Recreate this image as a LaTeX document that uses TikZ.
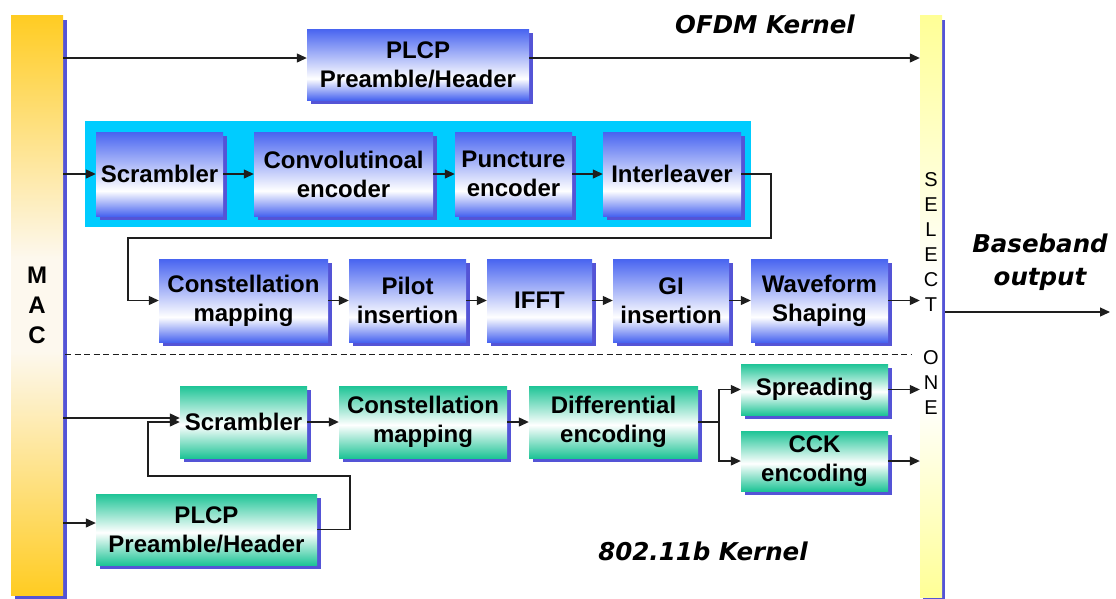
\documentclass[tikz,border=0pt]{standalone}
\usepackage{fontspec}
\setmainfont{Liberation Sans}
\newfontfamily\labelfont{DejaVu Sans}
\usetikzlibrary{arrows.meta,shadows,calc}

\definecolor{boxblue}{RGB}{72,100,240}
\definecolor{boxgreen}{RGB}{30,196,150}
\definecolor{shadowblue}{RGB}{84,84,214}
\definecolor{framecyan}{RGB}{0,204,255}
\definecolor{macyellow}{RGB}{255,204,34}
\definecolor{macpale}{RGB}{253,248,238}
\definecolor{selyellow}{RGB}{255,255,150}
\definecolor{wireblack}{RGB}{30,30,30}

% vertical fades: 25bp = bottom edge, 75bp = top edge of the shaded path
\pgfdeclareverticalshading{bluefade}{100bp}{color(0bp)=(boxblue); color(25bp)=(boxblue); color(40bp)=(white); color(75bp)=(boxblue); color(100bp)=(boxblue)}
\pgfdeclareverticalshading{greenfade}{100bp}{color(0bp)=(boxgreen); color(25bp)=(boxgreen); color(48bp)=(white); color(75bp)=(boxgreen); color(100bp)=(boxgreen)}
\pgfdeclareverticalshading{macfade}{100bp}{color(0bp)=(macyellow); color(25bp)=(macyellow); color(46bp)=(macpale); color(54bp)=(macpale); color(75bp)=(macyellow); color(100bp)=(macyellow)}
\pgfdeclareverticalshading{selfade}{100bp}{color(0bp)=(selyellow); color(25bp)=(selyellow); color(42bp)=(white); color(52bp)=(white); color(75bp)=(selyellow); color(100bp)=(selyellow)}

\tikzset{
  boxtext/.style={font=\fontsize{24}{29}\selectfont\bfseries, align=center, inner sep=0pt},
  bluebox/.style={boxtext, shading=bluefade,
    drop shadow={shadow xshift=4pt, shadow yshift=-4pt, fill=shadowblue, opacity=1}},
  greenbox/.style={boxtext, shading=greenfade,
    drop shadow={shadow xshift=4pt, shadow yshift=-4pt, fill=shadowblue, opacity=1}},
  wire/.style={line width=1.2pt, draw=wireblack},
  arrow/.style={wire, -{Triangle[length=10pt,width=9pt]}},
  kernel/.style={font=\labelfont\fontsize{24.5}{33}\selectfont\bfseries\itshape, align=center, inner sep=0pt},
}

\begin{document}
\begin{tikzpicture}[x=1pt, y=-1pt]
\useasboundingbox (0,0) rectangle (1116,598);

% side bars
\node[shading=macfade, minimum width=52pt, minimum height=580pt, inner sep=0pt,
      drop shadow={shadow xshift=4pt, shadow yshift=-5pt, fill=shadowblue, opacity=1},
      font=\fontsize{24}{30}\selectfont\bfseries, align=center] (mac) at (37,305) {M\\A\\C};
\node[shading=selfade, minimum width=22pt, minimum height=582pt, inner sep=0pt,
      drop shadow={shadow xshift=3pt, shadow yshift=-5pt, fill=shadowblue, opacity=1}] (select) at (931,306) {};
\node[font=\fontsize{20}{25}\selectfont, align=center, inner sep=0pt] (seltxt) at (931,242.5) {S\\E\\L\\E\\C\\T};
\node[font=\fontsize{20}{25}\selectfont, align=center, inner sep=0pt] (onetxt) at (931,382.5) {O\\N\\E};

% OFDM path
\node[bluebox, minimum width=222pt, minimum height=71pt] (plcp1) at (418,64.5) {PLCP\\Preamble/Header};
\node[fill=framecyan, minimum width=666pt, minimum height=106pt, inner sep=0pt] (ofdmframe) at (418,174) {};
\node[bluebox, minimum width=127pt, minimum height=84pt] (scr1) at (159.5,174) {Scrambler};
\node[bluebox, minimum width=179pt, minimum height=84pt] (conv) at (343.5,174) {Convolutinoal\\encoder};
\node[bluebox, minimum width=117pt, minimum height=84pt] (punc) at (513.5,174) {Puncture\\encoder};
\node[bluebox, minimum width=138pt, minimum height=84pt] (intl) at (672,174) {Interleaver};

\node[bluebox, minimum width=169pt, minimum height=83pt] (cons1) at (243.5,300.5) {Constellation\\mapping};
\node[bluebox, minimum width=117pt, minimum height=83pt] (pilot) at (407.5,300.5) {Pilot\\insertion};
\node[bluebox, minimum width=105pt, minimum height=83pt] (ifft) at (539.5,300.5) {IFFT};
\node[bluebox, minimum width=116pt, minimum height=83pt] (gi) at (671,300.5) {GI\\insertion};
\node[bluebox, minimum width=137pt, minimum height=83pt] (wave) at (819.5,300.5) {Waveform\\Shaping};

% 802.11b path
\node[greenbox, minimum width=127pt, minimum height=72pt] (scr2) at (243.5,422) {Scrambler};
\node[greenbox, minimum width=168pt, minimum height=72pt] (cons2) at (423,422) {Constellation\\mapping};
\node[greenbox, minimum width=169pt, minimum height=72pt] (diff) at (613.5,422) {Differential\\encoding};
\node[greenbox, minimum width=147pt, minimum height=51pt] (spread) at (814.5,389.5) {Spreading};
\node[greenbox, minimum width=147pt, minimum height=60pt] (cck) at (814.5,461) {CCK\\encoding};
\node[greenbox, minimum width=221pt, minimum height=71pt] (plcp2) at (206.5,529.5) {PLCP\\Preamble/Header};

% labels
\node[kernel] (ofdmlabel) at (765,24) {OFDM Kernel};
\node[kernel] (bblabel) at (1040,262) {Baseband\\output};
\node[kernel] (blabel) at (703,551) {802.11b Kernel};

% helper coordinates for wire rows and bends
\coordinate (r1) at (0,58);
\coordinate (r4) at (0,418);
\coordinate (r5) at (0,523);
\coordinate (rout) at (0,312);
\coordinate (outend) at (1110,312);
\coordinate (loopA) at (771,238);
\coordinate (loopB) at (128,238);
\coordinate (loopC) at (350,476);
\coordinate (loopD) at (148,476);
\coordinate (br) at (719,422);
\coordinate (dashL) at (65,354);
\coordinate (dashR) at (911,354);

% OFDM wires
\draw[arrow] (mac.east |- r1) -- (plcp1.west |- r1);
\draw[arrow] (plcp1.east |- r1) -- (select.west |- r1);
\draw[arrow] (mac.east |- scr1.west) -- (scr1.west);
\draw[arrow] (scr1.east) -- (conv.west);
\draw[arrow] (conv.east) -- (punc.west);
\draw[arrow] (punc.east) -- (intl.west);
\draw[arrow] (intl.east) -| (loopA) -- (loopB) |- (cons1.west);
\draw[arrow] (cons1.east) -- (pilot.west);
\draw[arrow] (pilot.east) -- (ifft.west);
\draw[arrow] (ifft.east) -- (gi.west);
\draw[arrow] (gi.east) -- (wave.west);
\draw[arrow] (wave.east) -- (select.west |- wave.east);
\draw[arrow] ([xshift=3pt]select.east |- rout) -- (outend);

% separator
\draw[wire, line width=0.9pt, dash pattern=on 6pt off 3.5pt] (dashL) -- (dashR);

% 802.11b wires
\draw[arrow] (mac.east |- r4) -- (scr2.west |- r4);
\draw[arrow] (mac.east |- r5) -- (plcp2.west |- r5);
\draw[arrow] (plcp2.east) -| (loopC) -- (loopD) |- (scr2.west);
\draw[arrow] (scr2.east) -- (cons2.west);
\draw[arrow] (cons2.east) -- (diff.west);
\draw[wire] (diff.east) -- (br);
\draw[arrow] (br) |- (spread.west);
\draw[arrow] (br) |- (cck.west);
\draw[arrow] (spread.east) -- (select.west |- spread.east);
\draw[arrow] (cck.east) -- (select.west |- cck.east);
\end{tikzpicture}
\end{document}
